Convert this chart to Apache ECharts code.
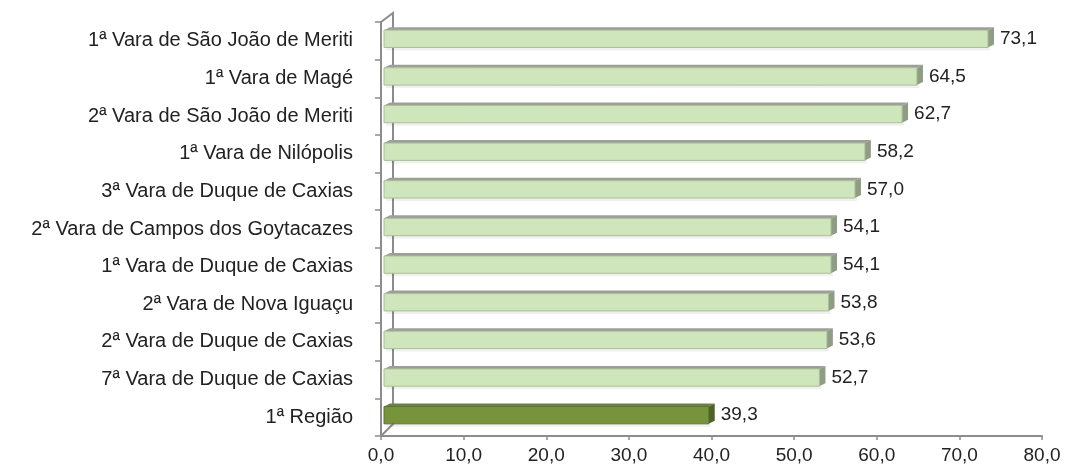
<!DOCTYPE html>
<html><head><meta charset="utf-8">
<script src="https://cdn.jsdelivr.net/npm/echarts@6/dist/echarts.min.js"></script>
<style>html,body{margin:0;padding:0;background:#fff}#c{width:1065px;height:470px}</style>
</head><body><div id="c"></div>
<script>
const categories = [
  "1ª Vara de São João de Meriti",
  "1ª Vara de Magé",
  "2ª Vara de São João de Meriti",
  "1ª Vara de Nilópolis",
  "3ª Vara de Duque de Caxias",
  "2ª Vara de Campos dos Goytacazes",
  "1ª Vara de Duque de Caxias",
  "2ª Vara de Nova Iguaçu",
  "2ª Vara de Duque de Caxias",
  "7ª Vara de Duque de Caxias",
  "1ª Região"
];
const values = [73.1, 64.5, 62.7, 58.2, 57.0, 54.1, 54.1, 53.8, 53.6, 52.7, 39.3];
const highlight = [false, false, false, false, false, false, false, false, false, false, true];
const xTicks = [0, 10, 20, 30, 40, 50, 60, 70, 80];

const fmt = v => v.toFixed(1).replace('.', ',');
const FONT = '"Liberation Sans", Arial, sans-serif';

const chart = echarts.init(document.getElementById('c'), null, {renderer: 'canvas'});

function renderItem(params, api) {
  const v = api.value(0), cat = api.value(1), hl = api.value(2);
  const p0 = api.coord([0, cat]);
  const p1 = api.coord([v, cat]);
  const band = api.size([0, 1])[1];
  const h = band * 0.46;
  const ox = 3, oy = -2;
  const x0 = p0[0] + ox, x1 = p1[0] + ox;
  const yc = p0[1] + oy;
  const top = yc - h / 2, bot = yc + h / 2;
  const d = 6, dy = 3;
  const front = hl ? '#77933c' : '#cfe5bb';
  const edge = hl ? '#5b7530' : '#a9bf98';
  const topC = hl ? '#6b7f4a' : '#9c9f98';
  const side = hl ? '#4f6228' : '#8f9d84';
  return {
    type: 'group',
    children: [
      {type: 'rect', shape: {x: x0 + 2, y: bot, width: x1 - x0, height: 3},
        style: {fill: 'rgba(0,0,0,0.06)'}},
      {type: 'polygon', shape: {points: [[x0, top], [x1, top], [x1 + d, top - dy], [x0 + d, top - dy]]},
        style: {fill: topC}},
      {type: 'polygon', shape: {points: [[x1, top], [x1 + d, top - dy], [x1 + d, bot - dy], [x1, bot]]},
        style: {fill: side}},
      {type: 'rect', shape: {x: x0, y: top, width: x1 - x0, height: h},
        style: {fill: front, stroke: edge, lineWidth: 1}},
      {type: 'text', style: {text: fmt(v), x: x1 + d + 6, y: yc, fill: '#222',
        font: '19px ' + FONT, verticalAlign: 'middle', align: 'left'}}
    ]
  };
}

const data = values.map((v, i) => [v, i, highlight[i] ? 1 : 0]);

chart.setOption({
  animation: false,
  grid: {left: 381, right: 23, top: 22, bottom: 34, containLabel: false},
  xAxis: {
    type: 'value', min: xTicks[0], max: xTicks[xTicks.length - 1], interval: 10,
    axisLine: {show: true, lineStyle: {color: '#8c8c8c', width: 2}},
    axisTick: {show: true, length: 4, lineStyle: {color: '#8c8c8c', width: 1.5}},
    splitLine: {show: false},
    axisLabel: {color: '#222', fontSize: 19, fontFamily: FONT, margin: 10, formatter: v => fmt(v)}
  },
  yAxis: {
    type: 'category', data: categories, inverse: true,
    axisLine: {show: true, lineStyle: {color: '#8c8c8c', width: 2}},
    axisTick: {show: true, length: 6, lineStyle: {color: '#8c8c8c', width: 1.5}},
    axisLabel: {color: '#222', fontSize: 20, fontFamily: FONT, margin: 28}
  },
  series: [{
    type: 'custom', renderItem: renderItem, data: data,
    encode: {x: 0, y: 1}, clip: false
  }]
});

// back wall edge of the 3D frame
const gridTop = 22, gridBot = 470 - 34;
const wx = 12, wy = 9;
chart.setOption({
  graphic: [
    {type: 'polyline', shape: {points: [[381, gridTop], [381 + wx, gridTop - wy], [381 + wx, gridBot - wy - 3], [381, gridBot]]},
      style: {stroke: '#8c8c8c', lineWidth: 2, fill: null}, z: -1}
  ]
});
</script></body></html>
